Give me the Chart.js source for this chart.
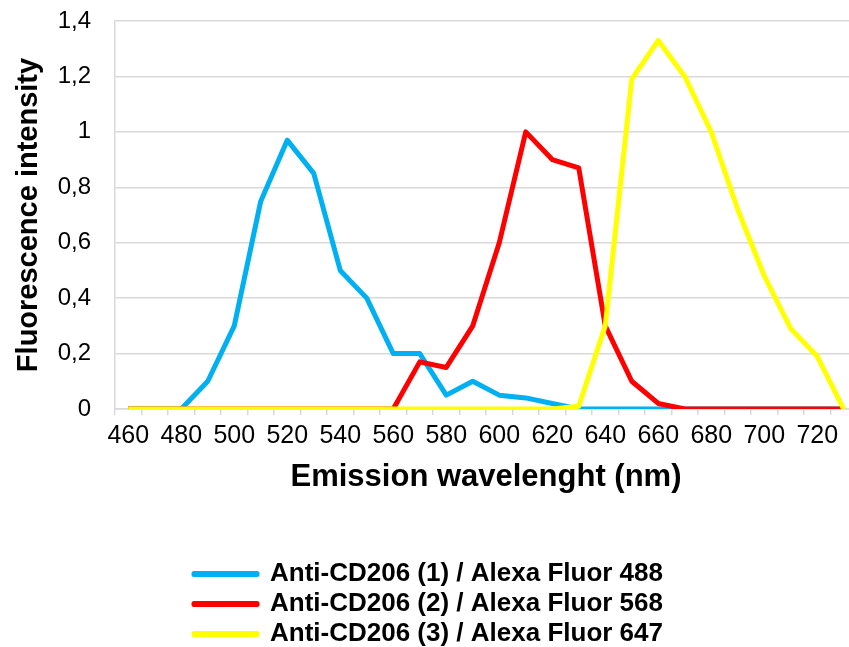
<!DOCTYPE html>
<html>
<head>
<meta charset="utf-8">
<script src="https://cdn.jsdelivr.net/npm/chart.js@4/dist/chart.umd.min.js"></script>
<style>
  html, body { margin: 0; padding: 0; background: #fff; overflow: hidden; }
  #wrap { position: absolute; left: 0; top: 0; width: 857px; height: 657px; }
</style>
</head>
<body>
<div id="wrap"><canvas id="chart"></canvas></div>
<script>
// emission wavelengths (nm), one category every 10 nm
const wavelengths = [460,470,480,490,500,510,520,530,540,550,560,570,580,590,600,610,620,630,640,650,660,670,680,690,700,710,720,730];

// Anti-CD206 (1) / Alexa Fluor 488
const af488 = [0,0,0,0.1,0.3,0.75,0.97,0.85,0.5,0.4,0.2,0.2,0.05,0.1,0.05,0.04,0.02,0,0,0,0,0,0,0,0,0,0,0];
// Anti-CD206 (2) / Alexa Fluor 568
const af568 = [0,0,0,0,0,0,0,0,0,0,0,0.17,0.15,0.3,0.6,1.0,0.9,0.87,0.3,0.1,0.02,0,0,0,0,0,0,0];
// Anti-CD206 (3) / Alexa Fluor 647
const af647 = [0,0,0,0,0,0,0,0,0,0,0,0,0,0,0,0,0,0.01,0.3,1.19,1.33,1.2,1.0,0.72,0.48,0.29,0.19,0];

const seriesNames = ['Anti-CD206 (1) / Alexa Fluor 488', 'Anti-CD206 (2) / Alexa Fluor 568', 'Anti-CD206 (3) / Alexa Fluor 647'];
const seriesColors = ['#00B0F0', '#FF0000', '#FFFF00'];
const yTicks = { min: 0, max: 1.4, step: 0.2 };

const FONT = "Arial, 'Liberation Sans', sans-serif";
const GRID = '#d9d9d9';

function fmtTick(v){
  const r = Math.round(v * 10) / 10;
  return Number.isInteger(r) ? String(r) : r.toFixed(1).replace('.', ',');
}

function mkSet(i, data){
  return {
    label: seriesNames[i],
    data,
    borderColor: seriesColors[i],
    backgroundColor: seriesColors[i],
    borderWidth: 5,
    pointRadius: 0,
    pointHoverRadius: 0,
    tension: 0,
    borderJoinStyle: 'round',
    order: 3 - i // later series drawn on top
  };
}

new Chart(document.getElementById('chart'), {
  type: 'line',
  data: {
    labels: wavelengths.map(String),
    datasets: [mkSet(0, af488), mkSet(1, af568), mkSet(2, af647)]
  },
  options: {
    responsive: true,
    maintainAspectRatio: false,
    animation: false,
    layout: { padding: { top: 21, right: 0, left: 0, bottom: 0 } },
    plugins: {
      tooltip: { enabled: false },
      legend: {
        position: 'bottom',
        labels: {
          boxWidth: 63,
          boxHeight: 1,
          padding: 4,
          color: '#000',
          font: { family: FONT, size: 26, weight: 'bold' },
          sort: (a, b) => a.datasetIndex - b.datasetIndex
        }
      }
    },
    scales: {
      x: {
        type: 'category',
        offset: true,
        grid: { display: true, drawOnChartArea: false, drawTicks: true, tickLength: 6, offset: true, color: GRID, lineWidth: 1.5 },
        border: { display: true, color: GRID, width: 1.5 },
        ticks: {
          autoSkip: false,
          maxRotation: 0,
          padding: 6,
          color: '#000',
          font: { family: FONT, size: 25 },
          callback: (v, i) => (i % 2 === 0 ? wavelengths[i] : '')
        },
        title: {
          display: true,
          text: 'Emission wavelenght (nm)',
          color: '#000',
          font: { family: FONT, size: 31, weight: 'bold' },
          padding: { top: 0, bottom: 61 }
        },
        afterFit: s => { s.height = 148; }
      },
      y: {
        min: yTicks.min,
        max: yTicks.max,
        // invisible tick marks keep the labels away from the axis
        grid: { color: GRID, lineWidth: 1.5, drawTicks: true, tickLength: 20, tickColor: 'rgba(0,0,0,0)' },
        border: { display: true, color: GRID, width: 1.5 },
        ticks: {
          stepSize: yTicks.step,
          padding: 4,
          color: '#000',
          font: { family: FONT, size: 24 },
          callback: v => fmtTick(v)
        },
        title: {
          display: true,
          text: 'Fluorescence intensity',
          color: '#000',
          font: { family: FONT, size: 29, weight: 'bold' },
          padding: { top: 12, bottom: 0 }
        },
        afterFit: s => { s.width = 115; }
      }
    }
  }
});
</script>
</body>
</html>
